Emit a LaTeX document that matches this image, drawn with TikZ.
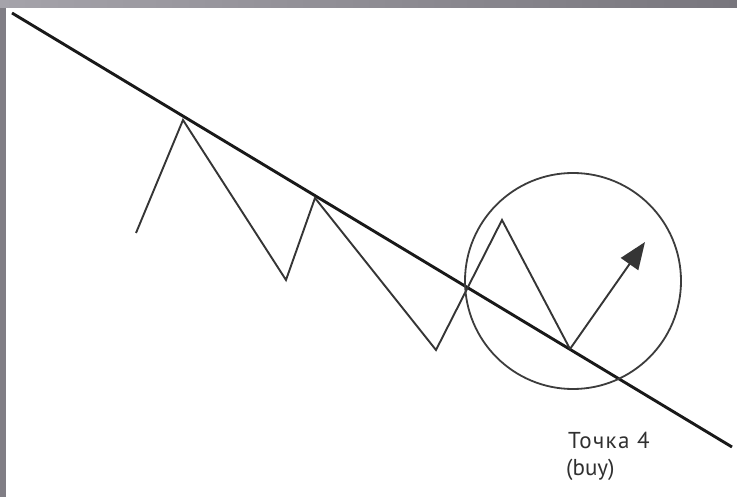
\documentclass[tikz,border=0pt]{standalone}
\usepackage{fontspec}
\setmainfont{PT Sans}
\usetikzlibrary{arrows.meta}
\definecolor{frameL}{RGB}{165,163,170}
\definecolor{frameR}{RGB}{120,118,125}
\definecolor{frameS}{RGB}{128,126,133}
\definecolor{ink}{RGB}{25,25,25}
\tikzset{
  trend/.style={draw=ink,line width=2.9pt},
  zig/.style={draw=ink!88,line width=1.9pt,line join=miter},
  ring/.style={draw=ink!85,line width=1.8pt},
  lbl/.style={font=\fontsize{23}{26}\selectfont,text=ink!90,inner sep=0pt,anchor=base west}
}
\begin{document}
\begin{tikzpicture}[x=1pt,y=-1pt]
\useasboundingbox (0,0) rectangle (737,497);
\fill[frameS] (0,0) rectangle (737,497);
\shade[left color=frameL,right color=frameR] (0,0) rectangle (737,8);
\fill[white] (6,8) rectangle (737,497);
% trend line
\coordinate (t0) at (12,13);
\coordinate (t1) at (732,447);
\draw[trend] (t0) -- (t1);
% zigzag
\coordinate (z0) at (136,233);
\coordinate (p1) at (183,120);
\coordinate (v1) at (286,280);
\coordinate (p2) at (315,198);
\coordinate (v2) at (436,350);
\coordinate (p3) at (502,220);
\coordinate (v3) at (570,349);
\coordinate (tip) at (645,242);
\draw[zig] (z0) -- (p1) -- (v1) -- (p2) -- (v2) -- (p3) -- (v3);
\draw[zig,-{Triangle[length=27pt,width=21pt]}] (v3) -- (tip);
% circle
\coordinate (c) at (573,281);
\draw[ring] (c) circle[radius=108];
% label
\node[lbl] (l1) at (568,448) {\addfontfeature{LetterSpace=6}Точка 4};
\node[lbl] (l2) at (566,475) {(buy)};
\end{tikzpicture}
\end{document}
